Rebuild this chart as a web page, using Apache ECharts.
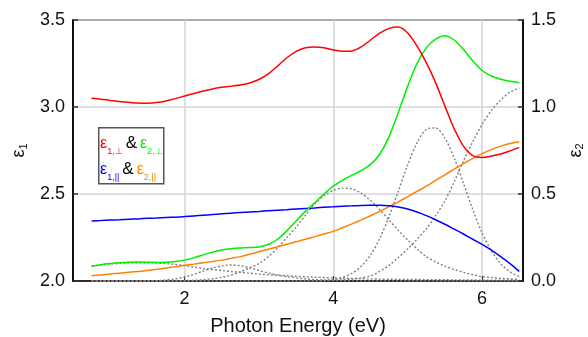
<!DOCTYPE html>
<html>
<head>
<meta charset="utf-8">
<script src="https://cdn.jsdelivr.net/npm/echarts@6/dist/echarts.min.js"></script>
<style>
  html, body { margin: 0; padding: 0; background: #fff; }
  #chart { width: 588px; height: 337px; }
</style>
</head>
<body>
<div id="chart"></div>
<script>
// photon energy grid (eV)
const energy = [0.75, 0.875, 1.0, 1.125, 1.25, 1.375, 1.5, 1.625, 1.75, 1.875,
  2.0, 2.125, 2.25, 2.375, 2.5, 2.625, 2.75, 2.875, 3.0, 3.125, 3.25, 3.375, 3.5, 3.625,
  3.75, 3.875, 4.0, 4.125, 4.25, 4.375, 4.5, 4.625, 4.75, 4.875, 5.0, 5.125, 5.25, 5.375,
  5.5, 5.625, 5.75, 5.875, 6.0, 6.125, 6.25, 6.375, 6.5];

// real part (left axis)
const eps1Perp = [3.05, 3.045, 3.038, 3.032, 3.027, 3.023, 3.022, 3.026, 3.035, 3.048,
  3.063, 3.078, 3.092, 3.104, 3.113, 3.12, 3.127, 3.138, 3.158, 3.19, 3.235, 3.283, 3.32, 3.34,
  3.345, 3.34, 3.328, 3.32, 3.322, 3.345, 3.385, 3.425, 3.452, 3.46, 3.425, 3.35, 3.255, 3.14,
  3.005, 2.875, 2.775, 2.72, 2.71, 2.718, 2.73, 2.748, 2.768];
const eps1Par = [2.345, 2.347, 2.35, 2.352, 2.355, 2.357, 2.36, 2.362, 2.365, 2.367,
  2.37, 2.374, 2.378, 2.382, 2.386, 2.39, 2.394, 2.397, 2.4, 2.404, 2.407, 2.41, 2.414, 2.417,
  2.42, 2.424, 2.427, 2.43, 2.432, 2.434, 2.435, 2.435, 2.432, 2.425, 2.414, 2.397, 2.376, 2.352,
  2.326, 2.298, 2.27, 2.24, 2.21, 2.177, 2.14, 2.1, 2.055];

// imaginary part (right axis)
const eps2Perp = [0.086, 0.094, 0.1, 0.105, 0.108, 0.109, 0.108, 0.107, 0.108, 0.112,
  0.12, 0.133, 0.15, 0.166, 0.178, 0.186, 0.19, 0.192, 0.196, 0.21, 0.24, 0.288, 0.345, 0.4,
  0.45, 0.5, 0.545, 0.58, 0.608, 0.635, 0.67, 0.73, 0.83, 0.97, 1.12, 1.25, 1.34, 1.39,
  1.41, 1.385, 1.33, 1.265, 1.21, 1.178, 1.16, 1.148, 1.14];
const eps2Par = [0.03, 0.035, 0.04, 0.045, 0.05, 0.055, 0.06, 0.067, 0.075, 0.082,
  0.09, 0.097, 0.105, 0.112, 0.12, 0.13, 0.14, 0.154, 0.168, 0.183, 0.197, 0.211, 0.225, 0.24,
  0.255, 0.27, 0.285, 0.306, 0.328, 0.351, 0.375, 0.4, 0.427, 0.455, 0.485, 0.515, 0.545, 0.578,
  0.61, 0.643, 0.675, 0.705, 0.732, 0.755, 0.775, 0.79, 0.8];

// oscillator contributions to eps2 (dotted)
const oscA = [0.085, 0.092, 0.097, 0.101, 0.104, 0.105, 0.105, 0.103, 0.1, 0.095,
  0.088, 0.08, 0.072, 0.066, 0.06, 0.055, 0.05, 0.045, 0.04, 0.036, 0.033, 0.03, 0.027, 0.024,
  0.022, 0.02, 0.018, 0.016, 0.015, 0.013, 0.012, 0.011, 0.01, 0.0095, 0.009, 0.0085, 0.008, 0.0075,
  0.007, 0.0065, 0.006, 0.0055, 0.005, 0.005, 0.005, 0.0045, 0.004];
const oscB = [0, 0, 0, 0, 0, 0, 0.001, 0.002, 0.006, 0.012,
  0.023, 0.038, 0.057, 0.075, 0.087, 0.092, 0.088, 0.076, 0.06, 0.046, 0.034, 0.025, 0.018, 0.012,
  0.008, 0.005, 0.003, 0.002, 0.001, 0, 0, 0, 0, 0, 0, 0, 0, 0,
  0, 0, 0, 0, 0, 0, 0, 0, 0];
const oscC = [0, 0, 0, 0, 0, 0, 0, 0, 0, 0,
  0.002, 0.004, 0.007, 0.013, 0.021, 0.034, 0.053, 0.075, 0.1, 0.14, 0.19, 0.25, 0.31, 0.378,
  0.443, 0.49, 0.521, 0.534, 0.529, 0.505, 0.463, 0.41, 0.35, 0.29, 0.235, 0.185, 0.14, 0.11,
  0.085, 0.066, 0.05, 0.036, 0.025, 0.02, 0.015, 0.012, 0.01];
const oscD = [0, 0, 0, 0, 0, 0, 0, 0, 0, 0,
  0, 0, 0, 0, 0, 0, 0, 0, 0, 0, 0, 0, 0, 0,
  0.001, 0.004, 0.009, 0.021, 0.044, 0.084, 0.149, 0.245, 0.371, 0.518, 0.668, 0.794, 0.871, 0.88,
  0.821, 0.707, 0.561, 0.411, 0.277, 0.173, 0.099, 0.053, 0.026];
const oscE = [0, 0, 0, 0, 0, 0, 0, 0, 0, 0,
  0, 0, 0, 0, 0, 0, 0, 0, 0, 0, 0, 0, 0, 0,
  0, 0, 0.005, 0.007, 0.01, 0.018, 0.03, 0.055, 0.09, 0.135, 0.185, 0.24, 0.3, 0.375,
  0.46, 0.57, 0.69, 0.8, 0.9, 0.98, 1.04, 1.085, 1.11];

const xTicks = [2, 4, 6];

const FONT = "'Liberation Sans', Arial, sans-serif";
const pairs = (arr) => energy.map((e, i) => [e, arr[i]]);

const chart = echarts.init(document.getElementById("chart"), null, { renderer: "canvas" });

const dotted = (arr) => ({
  type: "line",
  yAxisIndex: 1,
  data: pairs(arr),
  smooth: 0.3,
  symbol: "none",
  silent: true,
  z: 2,
  lineStyle: { color: "#808080", width: 1.4, type: [2, 2] },
});

const solid = (arr, color, axis) => ({
  type: "line",
  yAxisIndex: axis,
  data: pairs(arr),
  smooth: 0.3,
  symbol: "none",
  z: 3,
  lineStyle: { color: color, width: 1.5 },
});

const axisName = () => ({
  color: "#111",
  rich: {
    e: { fontFamily: FONT, fontSize: 18, color: "#111" },
    s: { fontFamily: FONT, fontSize: 11, color: "#111", verticalAlign: "bottom", padding: [9, 0, 0, 0] },
  },
});

// legend text styles: main glyph + subscript per colour
const legendRich = {};
[["r", "#ff0000"], ["g", "#00ee00"], ["b", "#0000ff"], ["o", "#ff8000"]].forEach(([k, c]) => {
  legendRich[k] = { fontFamily: FONT, fontSize: 16, fill: c, lineHeight: 26 };
  legendRich[k + "s"] = { fontFamily: FONT, fontSize: 9, fill: c, verticalAlign: "bottom", padding: [8, 0, 0, 0] };
});
legendRich.k = { fontFamily: FONT, fontSize: 17, fill: "#000", lineHeight: 26, padding: [0, 3, 0, 3] };

chart.setOption({
  animation: false,
  backgroundColor: "#fff",
  grid: {
    left: 73,
    right: 65,
    top: 20,
    bottom: 56,
    containLabel: false,
    outerBoundsMode: "none",
    show: true,
    borderColor: "#000",
    borderWidth: 1.5,
    backgroundColor: "transparent",
  },
  xAxis: {
    type: "value",
    min: 0.5,
    max: 6.55,
    name: "Photon Energy (eV)",
    nameLocation: "middle",
    nameGap: 35,
    nameTextStyle: { fontFamily: FONT, fontSize: 20, color: "#111" },
    axisLine: { show: true, onZero: false, lineStyle: { color: "#000", width: 1.5 } },
    axisTick: { show: true, inside: true, length: 5, customValues: xTicks, lineStyle: { color: "#333" } },
    axisLabel: { customValues: xTicks, fontFamily: FONT, fontSize: 18, color: "#111", margin: 9 },
    splitLine: { show: true, lineStyle: { color: "#d4d4d4", width: 1.5 } },
  },
  yAxis: [
    {
      type: "value",
      min: 2,
      max: 3.5,
      interval: 0.5,
      name: "{e|ε}{s|1}",
      nameLocation: "middle",
      nameRotate: 90,
      nameGap: 38,
      nameTextStyle: axisName(),
      axisLine: { show: true, lineStyle: { color: "#000", width: 1.5 } },
      axisTick: { show: true, inside: true, length: 5, lineStyle: { color: "#333", width: 1.5 } },
      axisLabel: {
        fontFamily: FONT, fontSize: 18, color: "#111", margin: 8,
        formatter: (v) => v.toFixed(1),
      },
      splitLine: { show: true, lineStyle: { color: "#d4d4d4", width: 1.5 } },
    },
    {
      type: "value",
      min: 0,
      max: 1.5,
      interval: 0.5,
      position: "right",
      name: "{e|ε}{s|2}",
      nameLocation: "middle",
      nameRotate: 90,
      nameGap: 39,
      nameTextStyle: axisName(),
      axisLine: { show: true, lineStyle: { color: "#000", width: 1.5 } },
      axisTick: { show: true, inside: true, length: 5, lineStyle: { color: "#333", width: 1.5 } },
      axisLabel: {
        fontFamily: FONT, fontSize: 18, color: "#111", margin: 8,
        formatter: (v) => v.toFixed(1),
      },
      splitLine: { show: false },
    },
  ],
  series: [
    dotted(oscA),
    dotted(oscB),
    dotted(oscC),
    dotted(oscD),
    dotted(oscE),
    solid(eps2Par, "#ff8000", 1),
    solid(eps1Par, "#0000ff", 0),
    solid(eps2Perp, "#00ee00", 1),
    solid(eps1Perp, "#ff0000", 0),
  ],
  graphic: [
    {
      type: "rect",
      left: 98,
      top: 127,
      z: 10,
      shape: { width: 65, height: 56 },
      style: { fill: "#fff", stroke: "#555", lineWidth: 1.5 },
    },
    {
      type: "text",
      left: 100,
      top: 135,
      z: 11,
      style: {
        text: "{r|ε}{rs|1,⊥}{k|&}{g|ε}{gs|2,⊥}\n{b|ε}{bs|1,||}{k|&}{o|ε}{os|2,||}",
        rich: legendRich,
      },
    },
  ],
});
</script>
</body>
</html>
